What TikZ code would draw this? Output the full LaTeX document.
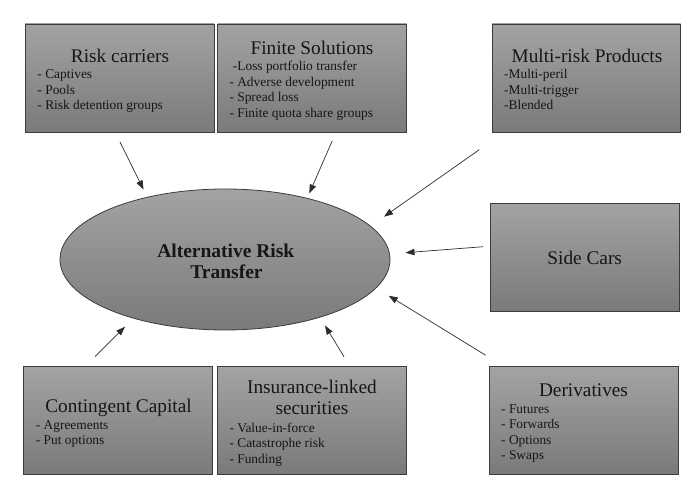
\documentclass[tikz,border=0pt]{standalone}
\usepackage{fontspec}
\setmainfont{Liberation Serif}
\usetikzlibrary{shapes.geometric,arrows.meta}
\definecolor{boxtop}{RGB}{163,163,163}
\definecolor{boxbot}{RGB}{122,122,122}
\definecolor{edge}{RGB}{60,60,60}
\definecolor{ink}{RGB}{22,22,22}
\definecolor{arrc}{RGB}{45,45,45}
\begin{document}
\begin{tikzpicture}[x=1pt,y=-1pt,
  box/.style={rectangle, draw=edge, line width=0.9pt, top color=boxtop, bottom color=boxbot,
    inner sep=0pt, minimum width=189pt, minimum height=108pt},
  ellbox/.style={ellipse, draw=edge, line width=0.8pt, top color=boxtop, bottom color=boxbot,
    inner sep=0pt, minimum width=330pt, minimum height=141pt},
  ttl/.style={font=\fontsize{19.3}{22}\selectfont, text=ink, anchor=base, inner sep=0pt},
  itm/.style={font=\fontsize{13.4}{15.5}\selectfont, text=ink, anchor=base west, inner sep=0pt},
  core/.style={font=\fontsize{19.5}{21}\selectfont\bfseries, text=ink, anchor=base, inner sep=0pt},
  arr/.style={draw=arrc, line width=0.7pt, -{Triangle[length=9pt,width=6.5pt]}}]
\useasboundingbox (0,0) rectangle (681,502);

% boxes
\node[box] (rc)  at (119.5,78) {};
\node[box] (fs)  at (312,78) {};
\node[box, minimum width=188.5pt] (mr)  at (586.25,78) {};
\node[box] (sc)  at (584.8,257.2) {};
\node[box] (cc)  at (118.2,420.3) {};
\node[box] (ils) at (312,420.3) {};
\node[box] (der) at (583.5,420.5) {};

% central ellipse
\node[ellbox] (art) at (225,259.5) {};
\node[core] (art1) at (225.8,257.3) {Alternative Risk};
\node[core] (art2) at (226.5,278.3) {Transfer};

% Risk carriers
\node[ttl] (rct) at (120,62.7) {Risk carriers};
\node[itm] (rc1) at (37.3,79) {- Captives};
\node[itm] (rc2) at (37.3,94.5) {- Pools};
\node[itm] (rc3) at (37.3,110) {- Risk detention groups};

% Finite Solutions
\node[ttl] (fst) at (312,54.3) {Finite Solutions};
\node[itm] (fs1) at (232.7,71) {-Loss portfolio transfer};
\node[itm] (fs2) at (229.3,86.3) {- Adverse development};
\node[itm] (fs3) at (229.3,101.8) {- Spread loss};
\node[itm] (fs4) at (229.3,117.3) {- Finite quota share groups};

% Multi-risk Products
\node[ttl] (mrt) at (587,62.7) {Multi-risk Products};
\node[itm] (mr1) at (504,79) {-Multi-peril};
\node[itm] (mr2) at (504,94.4) {-Multi-trigger};
\node[itm] (mr3) at (504,109.8) {-Blended};

% Side Cars
\node[ttl] (sct) at (584.7,264.3) {Side Cars};

% Contingent Capital
\node[ttl] (cct) at (118.5,412.3) {Contingent Capital};
\node[itm] (cc1) at (35.7,429.3) {- Agreements};
\node[itm] (cc2) at (35.7,444.7) {- Put options};

% Insurance-linked securities
\node[ttl] (ilst1) at (312,393.3) {Insurance-linked};
\node[ttl] (ilst2) at (312,415) {securities};
\node[itm] (ils1) at (229.3,432.7) {- Value-in-force};
\node[itm] (ils2) at (229.3,448) {- Catastrophe risk};
\node[itm] (ils3) at (229.3,463.3) {- Funding};

% Derivatives
\node[ttl] (dert) at (583.5,396.7) {Derivatives};
\node[itm] (der1) at (501,413.3) {- Futures};
\node[itm] (der2) at (501,428.8) {- Forwards};
\node[itm] (der3) at (501,444.3) {- Options};
\node[itm] (der4) at (501,459.8) {- Swaps};

% connector end points
\coordinate (rcS)  at (120,142);   \coordinate (rcE)  at (143.5,189.5);
\coordinate (fsS)  at (332.3,140.7); \coordinate (fsE)  at (309.3,193.5);
\coordinate (mrS)  at (479.3,149.7); \coordinate (mrE)  at (384,216.7);
\coordinate (scS)  at (483.3,246.7); \coordinate (scE)  at (405.5,252.7);
\coordinate (derS) at (485.7,355.3); \coordinate (derE) at (388.7,295.7);
\coordinate (ilsS) at (344,356.7);   \coordinate (ilsE) at (325,325.5);
\coordinate (ccS)  at (95,356.7);    \coordinate (ccE)  at (125,326.7);

\draw[arr] (rcS) -- (rcE);
\draw[arr] (fsS) -- (fsE);
\draw[arr] (mrS) -- (mrE);
\draw[arr] (scS) -- (scE);
\draw[arr] (derS) -- (derE);
\draw[arr] (ilsS) -- (ilsE);
\draw[arr] (ccS) -- (ccE);
\end{tikzpicture}
\end{document}
